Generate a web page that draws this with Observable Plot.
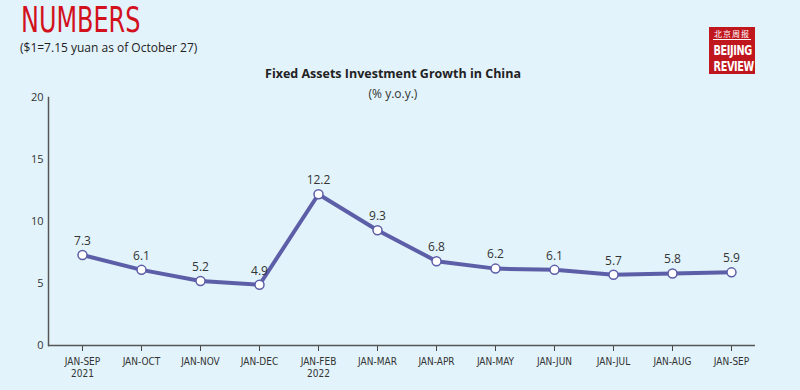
<!DOCTYPE html>
<html>
<head>
<meta charset="utf-8">
<script src="https://cdn.jsdelivr.net/npm/d3@7"></script>
<script src="https://cdn.jsdelivr.net/npm/@observablehq/plot@0.6"></script>
<style>
  html, body { margin: 0; padding: 0; }
  body { width: 800px; height: 390px; background: #e2f3fb; position: relative; overflow: hidden; font-family: "Open Sans", "Noto Sans", sans-serif; }
  #chart { position: absolute; left: 0; top: 0; }
  .abs { position: absolute; white-space: nowrap; }
  #brand { left: 21px; top: 0px; font-family: "DejaVu Sans Condensed", "Liberation Sans Narrow", sans-serif; font-size: 35px; line-height: 40px; color: #d3111d; transform: scaleX(0.76); transform-origin: left top; }
  #rate { left: 20px; top: 39px; font-size: 12px; color: #222; }
  #title { left: 0; width: 786px; text-align: center; top: 65px; font-size: 12.5px; font-weight: bold; color: #222; }
  #unit { left: 0; width: 786px; text-align: center; top: 85px; font-size: 12px; color: #333; }
  #logo { left: 709px; top: 27px; width: 46px; height: 47px; background: #c0161d; color: #fff; text-align: center; font-family: "DejaVu Sans Condensed", sans-serif; font-weight: bold; overflow: hidden; }
  #logo .cn { font-family: "Noto Sans CJK SC", sans-serif; font-weight: normal; font-size: 8px; line-height: 10px; height: 10px; padding-top: 2px; letter-spacing: 1px; border-bottom: 1px solid #fff; margin: 0 4px 2px 4px; }
  #logo .en { font-size: 13.5px; line-height: 16px; height: 16px; letter-spacing: -0.5px; transform: scaleX(0.8); transform-origin: center; }
</style>
</head>
<body>
<div id="chart"></div>
<div class="abs" id="brand">NUMBERS</div>
<div class="abs" id="rate">($1=7.15 yuan as of October 27)</div>
<div class="abs" id="title">Fixed Assets Investment Growth in China</div>
<div class="abs" id="unit">(% y.o.y.)</div>
<div class="abs" id="logo"><div class="cn">北京周报</div><div class="en">BEIJING</div><div class="en">REVIEW</div></div>
<script>
const periods = ["JAN-SEP\n2021", "JAN-OCT", "JAN-NOV", "JAN-DEC", "JAN-FEB\n2022", "JAN-MAR", "JAN-APR", "JAN-MAY", "JAN-JUN", "JAN-JUL", "JAN-AUG", "JAN-SEP"];
const growth = [7.3, 6.1, 5.2, 4.9, 12.2, 9.3, 6.8, 6.2, 6.1, 5.7, 5.8, 5.9];
const yTicks = [0, 5, 10, 15, 20];

const data = periods.map((p, i) => ({period: p, value: growth[i]}));
const lineColor = "#5d5ea8";

const chart = Plot.plot({
  width: 800,
  height: 390,
  marginTop: 97,
  marginBottom: 45,
  marginLeft: 48,
  marginRight: 45,
  style: { background: "transparent", fontFamily: "Open Sans, Noto Sans, sans-serif", color: "#333" },
  x: { type: "point", domain: periods, padding: 0, insetLeft: 30, insetRight: 21, label: null },
  y: { domain: [0, 20], label: null },
  marks: [
    Plot.axisY({ ticks: yTicks, tickSize: 0, tickPadding: 5, fontSize: 11, fill: "#333" }),
    Plot.axisX({ tickSize: 6, tickPadding: 5, fontSize: 10, fill: "#333", stroke: "#444", fontFamily: "DejaVu Sans Condensed, sans-serif", lineHeight: 1.2 }),
    Plot.frame({ anchor: "left", stroke: "#555", strokeWidth: 1.5 }),
    Plot.ruleY([0], { stroke: "#555", strokeWidth: 1.5 }),
    Plot.lineY(data, { x: "period", y: "value", stroke: lineColor, strokeWidth: 4, strokeLinejoin: "round" }),
    Plot.dot(data, { x: "period", y: "value", r: 4.5, fill: "white", stroke: lineColor, strokeWidth: 1.5 }),
    Plot.text(data, { x: "period", y: "value", text: d => d.value.toFixed(1), dy: -14, fontSize: 12, fill: "#333" })
  ]
});
document.getElementById("chart").appendChild(chart);
</script>
</body>
</html>
